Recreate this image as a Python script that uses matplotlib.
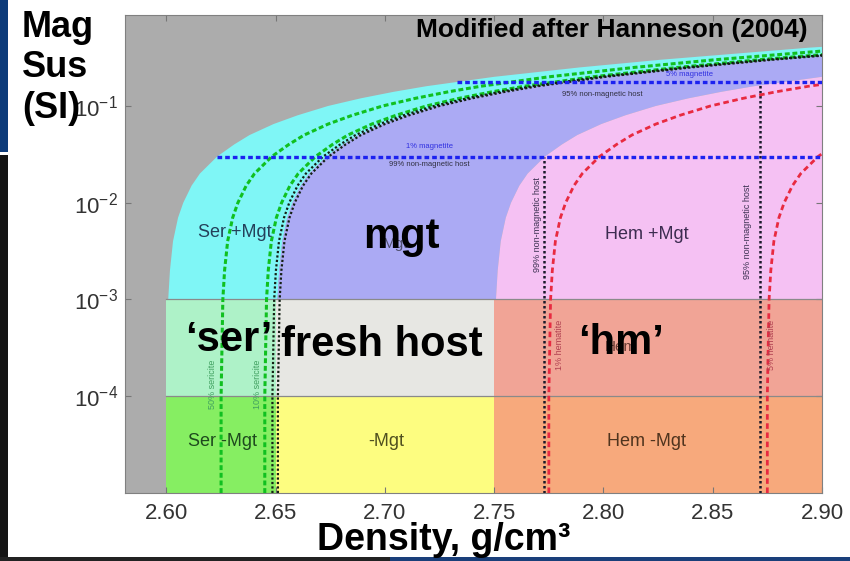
import numpy as np
import matplotlib.pyplot as plt
from matplotlib.patches import Rectangle

plt.rcParams['font.family'] = ['Liberation Sans', 'DejaVu Sans']
plt.rcParams['mathtext.fontset'] = 'custom'
plt.rcParams['mathtext.rm'] = 'Liberation Sans'
plt.rcParams['mathtext.bf'] = 'Liberation Sans:bold'

# --- data ---
# mixing curve shape: density shift away from host density vs mag sus
k_curve = [1e-5, 1e-4, 1e-3, 2e-3, 4e-3, 7e-3, 1e-2, 1.5e-2, 2e-2, 3e-2, 4e-2, 5e-2,
           6.5e-2, 8e-2, 0.1, 0.12, 0.14, 0.16, 0.2, 0.25, 0.3, 0.4, 0.5, 0.7, 1.0]
dens_shift = [0, 0, 0.0008, 0.0016, 0.003, 0.0053, 0.0077, 0.0115, 0.0153, 0.0232, 0.031, 0.038,
              0.049, 0.060, 0.074, 0.089, 0.104, 0.119, 0.150, 0.189, 0.226, 0.294, 0.362, 0.50, 0.70]

host_edges = [2.60, 2.65, 2.75, 2.90]          # ser / fresh / hem hosts
band_edges = [1e-5, 1e-4, 1e-3]                  # -Mgt band, host band
low_colors = ['#86ee62', '#fdfd80', '#f7a97c']   # Ser -Mgt, -Mgt, Hem -Mgt
mid_colors = ['#aef2c8', '#e7e7e3', '#f1a496']   # 'ser', fresh host, 'hm'
up_colors = ['#7ff6f6', '#abaaf4', '#f5c1f3']    # Ser +Mgt, mgt, Hem +Mgt

sericite_hosts = [2.625, 2.645]
sericite_black = [2.6485, 2.651]
hematite_hosts = [2.775, 2.875]
hematite_vert = [2.773, 2.8715]
magnetite_k = [0.0298, 0.177]   # 1% and 5% magnetite

xticks = [2.60, 2.65, 2.70, 2.75, 2.80, 2.85, 2.90]
yticks = [1e-4, 1e-3, 1e-2, 1e-1]

k_arr = np.array(k_curve)
s_arr = np.array(dens_shift)
up = k_arr >= 1e-3

fig = plt.figure(figsize=(8.5, 5.61), dpi=100)
ax = fig.add_axes([0.147, 0.1212, 0.82, 0.852])
ax.set_facecolor('#acacac')
ax.set_yscale('log')
ax.set_xlim(2.581, 2.90)
ax.set_ylim(1e-5, 0.87)

# lower bands
for j in range(2):
    cols = low_colors if j == 0 else mid_colors
    for i in range(3):
        ax.fill_between([host_edges[i], host_edges[i + 1]], band_edges[j], band_edges[j + 1],
                        color=cols[i], lw=0, zorder=1)

# upper curved regions
ks = k_arr[up]
ss = s_arr[up]
ax.fill_betweenx(ks, host_edges[0] + ss, host_edges[1] + ss, color=up_colors[0], lw=0, zorder=1)
ax.fill_betweenx(ks, host_edges[1] + ss, host_edges[2] + ss, color=up_colors[1], lw=0, zorder=1)
ax.fill_betweenx(ks, host_edges[2] + ss, host_edges[2] + ss + 1, color=up_colors[2], lw=0, zorder=1)

for b in band_edges[1:]:
    ax.plot([host_edges[0], host_edges[-1]], [b, b], color='#8a8a8a', lw=0.9, zorder=2)

# sericite mixing lines
for h in sericite_hosts:
    ax.plot(h + s_arr, k_arr, color='#10c020', lw=2.2, ls=(0, (1.6, 0.9)), zorder=3)
for h in sericite_black:
    ax.plot(h + s_arr, k_arr, color='#142014', lw=1.6, ls=(0, (1, 1)), zorder=3)

# hematite lines
for h, t in zip(hematite_vert, magnetite_k):
    ax.plot([h, h], [1e-5, t], color='#1a1a2a', lw=1.8, ls=(0, (1, 1)), zorder=3)
for h in hematite_hosts:
    ax.plot(h + s_arr, k_arr, color='#e82a40', lw=2.0, ls=(0, (2, 1.3)), zorder=3)

# magnetite lines
for t in magnetite_k:
    x0 = host_edges[0] + np.interp(np.log10(t), np.log10(k_arr), s_arr)
    ax.plot([x0, 2.90], [t, t], color='#1c22f0', lw=2.4, ls=(0, (1.4, 0.9)), zorder=3)

# small labels from the original figure
small = dict(fontsize=13, ha='center', va='center', zorder=4)
ax.text(2.6311, 4.9e-3, 'Ser +Mgt', color='#24405a', **small)
ax.text(2.8198, 4.7e-3, 'Hem +Mgt', color='#3c2c50', **small)
ax.text(2.6256, 3.44e-5, 'Ser -Mgt', color='#1e4a1e', **small)
ax.text(2.7007, 3.44e-5, '-Mgt', color='#505020', **small)
ax.text(2.8198, 3.44e-5, 'Hem -Mgt', color='#50341e', **small)
ax.text(2.705, 3.4e-3, 'Mgt', color='#505070', fontsize=11, ha='center', va='baseline', zorder=4)
ax.text(2.808, 2.9e-4, 'Hem', color='#6a3c34', fontsize=11, ha='center', va='baseline', zorder=4)

tiny = dict(fontsize=5.5, ha='center', va='center', zorder=4)
ax.text(2.7204, 0.0378, '1% magnetite', color='#3030e0', **tiny)
ax.text(2.7204, 0.0247, '99% non-magnetic host', color='#303040', **tiny)
ax.text(2.8395, 0.209, '5% magnetite', color='#3030e0', **tiny)
ax.text(2.7997, 0.130, '95% non-magnetic host', color='#303040', **tiny)

rot = dict(fontsize=6.5, ha='center', va='center', rotation=90, zorder=4)
ax.text(2.7700, 5.9e-3, '99% non-magnetic host', color='#3a3050', **rot)
ax.text(2.8661, 5.0e-3, '95% non-magnetic host', color='#3a3050', **rot)
ax.text(2.7800, 3.43e-4, '1% hematite', color='#b04050', **rot)
ax.text(2.8770, 3.43e-4, '5% hematite', color='#b04050', **rot)
ax.text(2.6211, 1.33e-4, '50% sericite', color='#40a060', **rot)
ax.text(2.6417, 1.33e-4, '10% sericite', color='#40a060', **rot)

# big annotations
big = dict(fontsize=30, fontweight='bold', color='black', ha='center', va='baseline', zorder=5)
ax.text(2.7076, 3.43e-3, 'mgt', **big)
ax.text(2.6284, 2.91e-4, '\u2018ser\u2019', **big)
ax.text(2.6985, 2.58e-4, 'fresh host', **big)
ax.text(2.808, 2.71e-4, '\u2018hm\u2019', **big)

ax.text(0.98, 0.969, 'Modified after Hanneson (2004)', transform=ax.transAxes,
        fontsize=19, fontweight='bold', ha='right', va='center', zorder=5)

# axes styling
ax.set_xticks(xticks)
ax.set_xticklabels(['%.2f' % v for v in xticks])
ax.set_yticks(yticks)
ax.set_yticklabels([r'$\mathregular{10^{%d}}$' % int(np.log10(v)) for v in yticks])
ax.minorticks_off()
ax.tick_params(direction='in', top=True, right=True, length=4, color='#777777',
               labelsize=16, labelcolor='#333333')
ax.tick_params(axis='x', pad=7)
ax.tick_params(axis='y', pad=5)
for sp in ax.spines.values():
    sp.set_color('#808080')
    sp.set_linewidth(0.8)

fig.text(22 / 850, 1 - 10 / 561, 'Mag\nSus\n(SI)', fontsize=26, fontweight='bold',
         ha='left', va='top', linespacing=1.2)
fig.text(444 / 850, 11 / 561, 'Density, g/cm\u00b3', fontsize=27, fontweight='bold',
         ha='center', va='baseline')

# slide edge remnants
fig.add_artist(Rectangle((0, 1 - 152 / 561), 8 / 850, 152 / 561, transform=fig.transFigure,
                         color='#0d3b7a', lw=0))
fig.add_artist(Rectangle((0, 0), 8 / 850, 1 - 155 / 561, transform=fig.transFigure,
                         color='#141414', lw=0))
fig.add_artist(Rectangle((0, 0), 390 / 850, 4 / 561, transform=fig.transFigure,
                         color='#222222', lw=0))
fig.add_artist(Rectangle((390 / 850, 0), 460 / 850, 4 / 561, transform=fig.transFigure,
                         color='#1a3f7a', lw=0))

fig.savefig('out.png', dpi=100)
